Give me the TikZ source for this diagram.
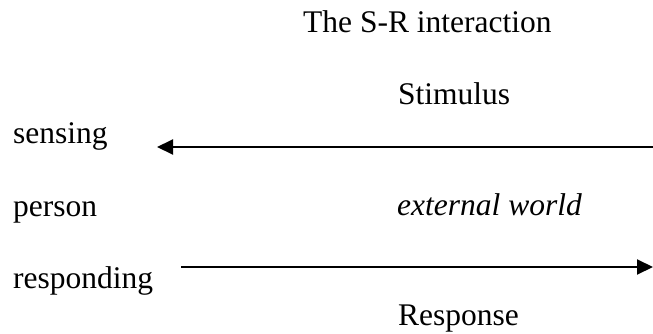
\documentclass[tikz,border=0pt]{standalone}
\usepackage{fontspec}
\setmainfont{Liberation Serif}
\usetikzlibrary{arrows.meta}
\begin{document}
\begin{tikzpicture}[x=1pt,y=1pt,
  lbl/.style={anchor=base west,inner sep=0pt,font=\fontsize{31.5}{36}\selectfont},
  arr/.style={line width=2pt,-{Triangle[length=16pt,width=15pt]}}]
\useasboundingbox (0,0) rectangle (653,333);
\node[lbl] (title) at (303,301) {The S-R interaction};
\node[lbl] (stim) at (398,229) {Stimulus};
\node[lbl] (sens) at (13,190) {sensing};
\node[lbl] (pers) at (13,117) {person};
\node[lbl] (ext) at (397,118) {\itshape external world};
\node[lbl] (resp) at (13,45) {responding};
\node[lbl] (rsp) at (398,8) {Response};
\coordinate (sa) at (653,186);
\coordinate (sb) at (157,186);
\coordinate (ra) at (181,66);
\coordinate (rb) at (653,66);
\draw[arr] (sa) -- (sb);
\draw[arr] (ra) -- (rb);
\end{tikzpicture}
\end{document}
